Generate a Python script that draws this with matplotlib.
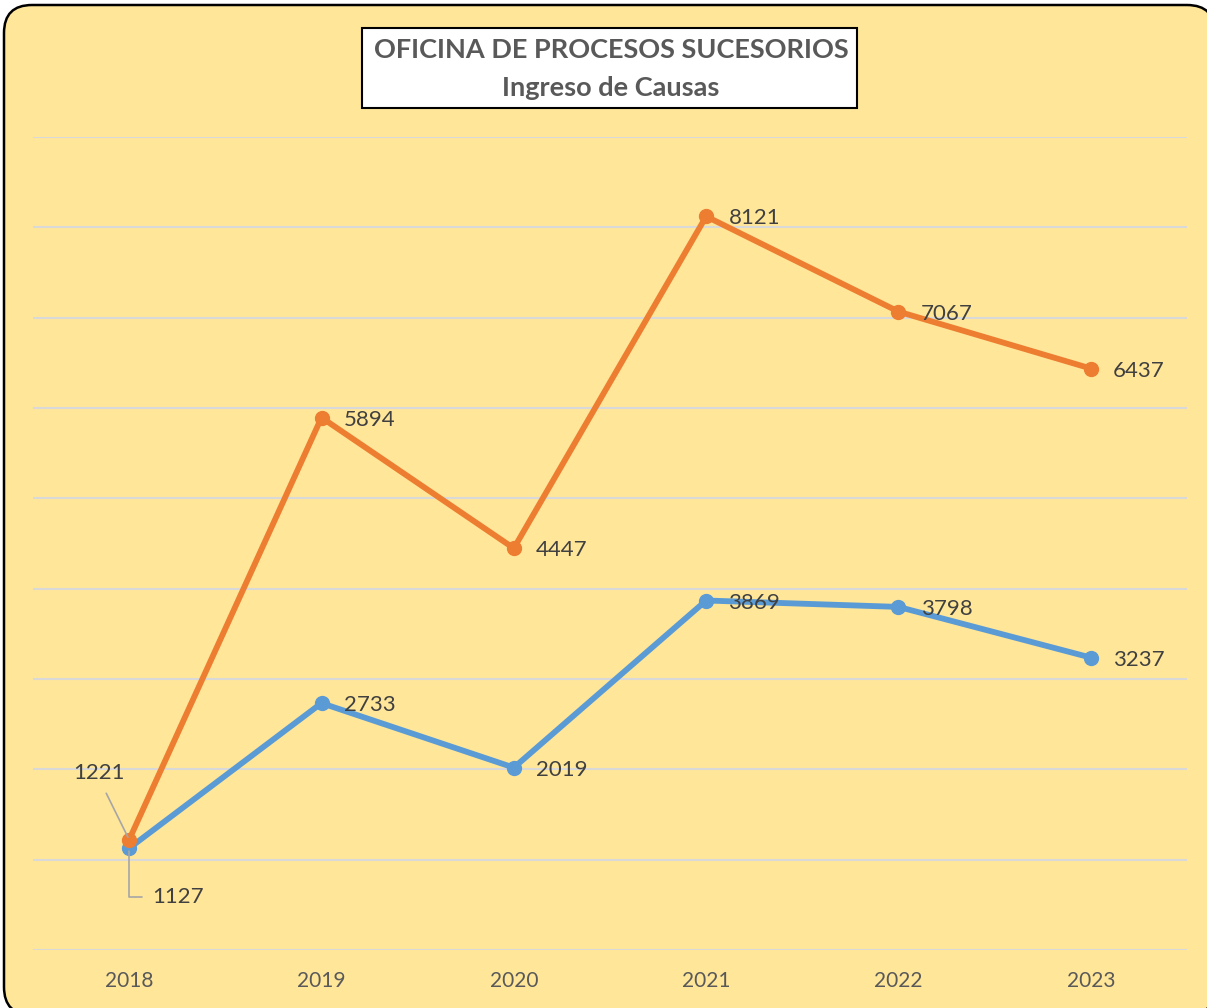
import matplotlib.pyplot as plt
from matplotlib.patches import FancyBboxPatch, Rectangle
from matplotlib.transforms import IdentityTransform

years = ["2018", "2019", "2020", "2021", "2022", "2023"]
orange_vals = [1221, 5894, 4447, 8121, 7067, 6437]
blue_vals = [1127, 2733, 2019, 3869, 3798, 3237]

ORANGE = "#ED7D31"
BLUE = "#5B9BD5"
BG = "#FFE699"
TXT = "#404040"

plt.rcParams["font.family"] = ["Lato", "DejaVu Sans"]

fig = plt.figure(figsize=(12.07, 10.08), dpi=100)
fig.patch.set_facecolor("white")

# rounded chart border (pixel coordinates)
border = FancyBboxPatch((4, -7), 1211, 1010, boxstyle="round,pad=0,rounding_size=28",
                        transform=IdentityTransform(), facecolor=BG, edgecolor="black",
                        linewidth=1.8, zorder=-1)
fig.patches.append(border)

ax = fig.add_axes([33 / 1207, 1 - 950 / 1008, (1187 - 33) / 1207, (950 - 137) / 1008])
ax.set_facecolor("none")
x = list(range(len(years)))

ax.plot(x, blue_vals, color=BLUE, lw=4.2, marker="o", ms=10, zorder=3)
ax.plot(x, orange_vals, color=ORANGE, lw=4.2, marker="o", ms=10, zorder=4)

ax.set_xlim(-0.5, len(years) - 0.5)
ax.set_ylim(0, 9000)
ax.set_yticks(range(0, 9001, 1000))
ax.set_yticklabels([])
ax.grid(axis="y", color="#D9D9D9", lw=1.5)
ax.set_axisbelow(True)
ax.set_xticks(x)
ax.set_xticklabels(years, color="#595959", fontsize=15)
ax.tick_params(length=0, pad=15)
for s in ax.spines.values():
    s.set_visible(False)

lab = dict(fontsize=16, color=TXT, va="center", ha="left", textcoords="offset points", zorder=6)
for i in range(1, len(years)):
    ax.annotate(str(orange_vals[i]), (x[i], orange_vals[i]), xytext=(16, -1.5), **lab)
    ax.annotate(str(blue_vals[i]), (x[i], blue_vals[i]), xytext=(16, -1.5), **lab)

# first-year labels with leader lines
ax.annotate(str(orange_vals[0]), (x[0], orange_vals[0]), xytext=(-22, 48),
            textcoords="offset points", fontsize=16, color=TXT, ha="center", va="center",
            arrowprops=dict(arrowstyle="-", color="#A6A6A6", lw=1.2, relpos=(0.55, 0),
                            shrinkA=6, shrinkB=2), zorder=6)
ax.annotate(str(blue_vals[0]), (x[0], blue_vals[0]), xytext=(16.5, -35),
            textcoords="offset points", fontsize=16, color=TXT, ha="left", va="center",
            arrowprops=dict(arrowstyle="-", color="#A6A6A6", lw=1.2, relpos=(0, 0.5),
                            connectionstyle="angle,angleA=0,angleB=90,rad=0",
                            shrinkA=5, shrinkB=2), zorder=6)

# title box
fig.patches.append(Rectangle((362, 1008 - 108), 495, 80, transform=IdentityTransform(),
                             facecolor="white", edgecolor="black", lw=1.5, zorder=5))
fig.text(611 / 1207, 1 - 50 / 1008, "OFICINA DE PROCESOS SUCESORIOS", ha="center", va="center",
         fontsize=19.5, fontweight="bold", color="#595959", zorder=6)
fig.text(611 / 1207, 1 - 88 / 1008, "Ingreso de Causas", ha="center", va="center",
         fontsize=19.5, fontweight="bold", color="#595959", zorder=6)

fig.savefig("out.png", dpi=100, facecolor=fig.get_facecolor())
